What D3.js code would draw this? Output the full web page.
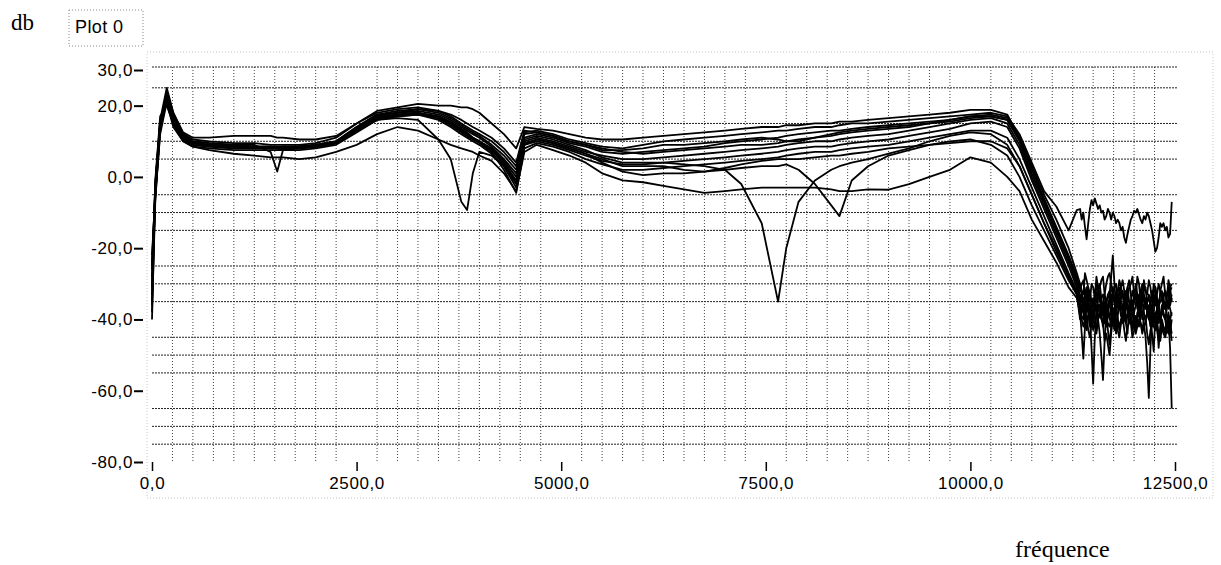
<!DOCTYPE html>
<html><head><meta charset="utf-8">
<script src="https://cdn.jsdelivr.net/npm/d3@7"></script>
<style>
html,body{margin:0;padding:0;background:#fff;}
svg{display:block;}
</style>
</head><body>
<svg id="c" width="1221" height="565"></svg>
<script>
// ---------- data ----------
const xTicks = [0, 2500, 5000, 7500, 10000, 12500];
const yTicks = [30, 20, 0, -20, -40, -60, -80];

const freqMain = [0, 40, 100, 180, 260, 380, 500, 700,
  1000, 1250, 1450, 1530, 1600, 1800, 2000, 2250,
  2500, 2750, 3000, 3250, 3500, 3650, 3780, 3850,
  3920, 4000, 4150, 4300, 4450, 4550, 4700, 4900,
  5100, 5300, 5500, 5750, 6000, 6250, 6500, 6750,
  7000, 7200, 7450, 7650, 7750, 7900, 8100, 8300,
  8400, 8550, 8750, 9000, 9250, 9500, 9750, 10000,
  10250, 10450, 10600, 10750, 10900, 11050, 11200, 11300];

const freqTail = [11340, 11360, 11380, 11400, 11420, 11440, 11460, 11480, 11500, 11520,
  11540, 11560, 11580, 11600, 11620, 11640, 11660, 11680, 11700, 11720,
  11740, 11760, 11780, 11800, 11820, 11840, 11860, 11880, 11900, 11920,
  11940, 11960, 11980, 12000, 12020, 12040, 12060, 12080, 12100, 12120,
  12140, 12160, 12180, 12200, 12220, 12240, 12260, 12280, 12300, 12320,
  12340, 12360, 12380, 12400, 12420, 12440, 12460];

const mainA = [-22, -5, 14, 22, 17, 12, 10.5, 10,
  9.5, 9.5, 9, 9, 9, 9, 9.5, 11,
  15, 18.5, 19.5, 20.5, 20, 20, 19.5, 19.5,
  19, 18, 15, 12, 8, 14, 13.5, 13,
  12, 11, 10.5, 10.5, 11, 11.5, 12, 12.5,
  13, 13.5, 14, 14, 14.5, 14.5, 15, 15,
  15.5, 15.5, 16, 16.5, 17, 17.5, 18, 18.8,
  18.8, 17.5, 11, 3, -5, -12, -20, -27];
const mainB = [-25, -3, 15, 23, 16, 11, 9.5, 9,
  8.5, 8.5, 8.5, 8, 8.5, 8.5, 9, 10,
  14, 17.5, 18.5, 19, 18.5, 17, 15, 14,
  13, 12, 10, 7, 3, 12.5, 13, 12,
  10.5, 9.5, 8.5, 8, 9, 10, 10.5, 11,
  11.5, 12, 12.5, 13, 13, 13.5, 14, 14,
  14.5, 15, 15, 15.5, 16, 16.5, 17, 17.5,
  18, 17, 12, 4, -4, -8.3, -15, -9.3];
const mainC = [-28, -2, 16, 21, 15, 10.5, 9, 8.5,
  8, 8, 8, 8, 7.5, 8, 8.5, 9.5,
  13.5, 17, 18, 18.5, 17.5, 16, 14, 13,
  12, 11, 8.5, 5, 1, 11, 12, 11,
  9.5, 8.5, 7, 6.5, 7, 7.5, 8, 8.5,
  9.5, 10, 10.5, 11, 11.5, 12, 12.5, 13,
  13, 13.5, 14, 14.5, 15, 15.5, 16, 17,
  17.5, 16.5, 11, 2, -6, -14, -22, -28];
const mainD = [-30, -6, 13, 24, 18, 12.5, 11, 11,
  11.5, 11.5, 11.5, 11, 11, 10.5, 10.5, 11.5,
  15, 18, 19, 19.5, 18.5, 17.5, 16, 15,
  14, 13, 11, 8, 4, 13, 12.5, 11.5,
  10, 9, 8, 7, 6.5, 7, 7.5, 8,
  8.5, 9, 9, 9.5, 10, 10.5, 11, 11.5,
  12, 12.5, 13, 13.5, 14, 15, 16, 17,
  17, 16, 10, 1, -7, -15, -23, -29];
const mainE = [-33, -4, 15, 22, 16, 11, 9.5, 9,
  8.5, 8, 8.5, 8, 8.5, 8.5, 8.5, 9.5,
  13, 16.5, 17.5, 18, 17, 15.5, 13.5, 12.5,
  11, 10, 7.5, 4, -1, 10, 11, 10,
  8.5, 7, 6, 5, 5, 5.5, 6, 6.5,
  7, 7.5, 8, 8.5, 9, 9.5, 10, 10,
  10.5, 11, 11.5, 12, 13, 14, 15, 16,
  16.5, 15, 9, 0, -8, -16, -24, -30];
const mainF = [-35, -1, 17, 20, 15, 10, 8.5, 8,
  7.5, 7.5, 7.5, 7.5, 7.5, 7.5, 8, 9,
  12.5, 16, 16.5, 16, 10.5, 5, -7, -9.3,
  1, 7, 6, 3, -3, 9, 10, 9,
  7.5, 6, 4.5, 3.5, 3.5, 4, 4.5, 5,
  5.5, 6, 6.5, 7, 7.5, 8, 8.5, 8.5,
  9, 9.5, 10, 10.5, 11.5, 12.5, 13.5, 15,
  15.5, 14, 8, -1, -9, -17, -25, -31];
const mainG = [-38, -7, 14, 23, 17, 11.5, 10, 9.5,
  9, 9, 7, 1.5, 7.5, 8.5, 9, 10,
  13.5, 17, 17.5, 18, 16.5, 14.5, 12.5, 11.5,
  10.5, 9.5, 7, 2, -4.5, 8, 9.5, 8.5,
  7, 5, 3.5, 2, 2, 2.5, 3, 3.5,
  4, 4.5, 5, 5.5, 6, 6.5, 7, 7,
  7.5, 8, 8.5, 9, 10, 11, 12, 13,
  13, 11, 5, -3, -11, -19, -27, -32];
const mainH = [-40, -3, 16, 25, 18, 12, 10, 9.5,
  9, 8.5, 8.5, 8, 8, 8.5, 8.5, 9.5,
  13, 16.5, 17, 17.5, 16, 14, 12, 11,
  10, 9, 6.5, 3, -2, 9, 10.5, 9.5,
  8, 6.5, 4, 1.5, 0.5, 1, 1, 1.5,
  2, 2.5, 3, 3, 3.5, 2, -2, -8,
  -11, -1, 3, 6, 7.5, 9, 10, 10.5,
  9, 6, 0, -8, -15, -22, -29, -33];
const mainI = [-26, -5, 12, 21, 14, 10, 8.5, 7.5,
  6.5, 6, 5.5, 5.5, 5.5, 5, 5.5, 7,
  9, 12, 14, 13, 10.5, 9, 8, 7.5,
  7, 6, 4.5, 1, -4, 7, 9, 7.5,
  6, 4, 1, -1, -1.5, -2.5, -3.5, -4.5,
  -4, -3.5, -3, -3, -3, -3, -3, -3.5,
  -4, -4, -3.5, -3.6, -2, 0, 2, 5.5,
  4, 0, -4, -12, -18, -24, -31, -34];
const mainJ = [-31, -2, 15, 22, 16, 11, 9.5, 9,
  8.5, 8.5, 8, 8, 8, 8, 8.5, 9.5,
  13, 16.5, 17.5, 18, 17, 15, 13, 12,
  11, 10, 8, 4.5, 0, 10.5, 11.5, 10.5,
  9, 7.5, 5.5, 4, 4, 4, 3.5, 3,
  2, -2, -13, -35, -20, -7, -1, 2,
  3, 4, 5, 6.5, 8, 10, 11.5, 12.5,
  12, 9, 3, -5, -13, -20, -28, -32];
const mainK = [-24, -4, 15, 22, 16, 11, 9.5, 9,
  8.5, 8.5, 8.5, 8.5, 8.5, 8.5, 9, 10,
  14, 17.5, 18, 19, 18, 16.5, 14.5, 13.5,
  12.5, 11.5, 9, 6, 2, 12, 12.5, 11.5,
  10, 9, 7.5, 7.5, 8, 9, 9, 9.5,
  10, 10.5, 11, 10.5, 10, 10, 11, 12,
  12.5, 13, 13.5, 14, 14.5, 15, 15.5, 16.5,
  17, 16, 10.5, 2.5, -6.5, -14.5, -22.5, -28.5];
const mainL = [-36, -5, 14, 21, 15, 10.5, 9, 8.5,
  8, 8, 8, 8, 8, 8, 8.5, 9.5,
  13, 16, 17, 17.5, 16.5, 15, 13, 12,
  11, 10, 7.5, 3.5, -1.5, 9.5, 10.5, 9.5,
  8, 6.5, 5, 3, 3, 3, 2, 1.5,
  2.5, 3.5, 4.5, 5, 5, 5, 5.5, 6,
  6, 6.5, 7, 8, 8.5, 9, 9.5, 10,
  10, 8, 3, -5, -13, -21, -28, -33];

const tailA = [-30, -32, -33, -27, -29, -31, -35, -30, -31, -34, -28, -31, -34, -38, -36, -33, -30, -28, -27, -30,
  -32, -36, -35, -32, -29, -31, -33, -35, -37, -34, -31, -30, -28, -33, -34, -28, -30, -35, -36, -29,
  -32, -33, -29, -31, -35, -30, -31, -36, -38, -32, -30, -28, -33, -34, -29, -31, -35];
const tailB = [-9, -12, -10, -14, -17.5, -13, -9, -6.5, -8, -6, -7.5, -9, -8, -10, -9.5, -12, -11, -9, -10, -12,
  -10, -11, -13, -12, -13, -15, -14, -17, -18.5, -16, -14, -12, -11, -9.5, -10, -9, -10.5, -12, -13, -11,
  -12, -10, -11, -13, -15, -18, -21, -20, -17, -13, -14, -13, -15, -14, -17, -16, -7];
const tailC = [-34, -37, -38, -33, -31, -35, -36, -39, -40, -35, -33, -31, -30, -34, -37, -41, -35, -33, -32, -36,
  -39, -37, -34, -32, -31, -35, -36, -40, -33, -31, -35, -38, -37, -34, -30, -33, -37, -39, -34, -32,
  -31, -36, -39, -42, -36, -34, -33, -37, -35, -39, -38, -34, -32, -35, -36, -31, -30];
const tailD = [-32, -30, -29, -34, -36, -31, -33, -37, -39, -36, -35, -32, -31, -29, -28, -33, -35, -38, -40, -36,
  -33, -31, -30, -34, -37, -33, -32, -35, -35, -31, -29, -33, -36, -34, -33, -37, -38, -34, -31, -35,
  -35, -38, -40, -36, -32, -35, -36, -33, -30, -32, -34, -37, -37, -33, -31, -36, -34];
const tailE = [-36, -39, -40, -37, -35, -38, -42, -39, -37, -34, -33, -36, -39, -37, -36, -40, -41, -37, -35, -33,
  -38, -41, -35, -32, -36, -39, -40, -36, -34, -38, -37, -40, -42, -38, -36, -34, -33, -37, -39, -36,
  -35, -38, -37, -35, -41, -38, -34, -36, -38, -41, -36, -38, -40, -37, -35, -37, -39];
const tailF = [-38, -44, -51, -42, -36, -38, -40, -37, -35, -39, -44, -40, -39, -36, -37, -40, -42, -38, -36, -33,
  -40, -43, -38, -36, -34, -38, -41, -39, -37, -35, -39, -37, -36, -40, -43, -40, -38, -36, -35, -38,
  -40, -39, -37, -41, -44, -49, -39, -37, -41, -38, -38, -35, -36, -39, -42, -44, -40];
const tailG = [-35, -33, -37, -40, -33, -36, -39, -48, -58, -45, -38, -36, -36, -39, -41, -38, -35, -37, -39, -42,
  -37, -40, -44, -39, -36, -34, -33, -37, -40, -38, -38, -36, -35, -39, -42, -38, -37, -36, -40, -37,
  -34, -38, -39, -41, -36, -40, -41, -39, -48, -42, -37, -39, -40, -43, -44, -40, -38];
const tailH = [-40, -38, -37, -41, -43, -39, -38, -40, -41, -38, -36, -40, -44, -50, -57, -46, -39, -41, -42, -40,
  -37, -39, -40, -43, -45, -41, -38, -37, -41, -44, -36, -39, -43, -41, -39, -40, -42, -39, -38, -41,
  -45, -52, -62, -48, -40, -42, -43, -40, -38, -40, -41, -43, -44, -41, -39, -42, -46];
const tailI = [-37, -40, -42, -40, -39, -43, -45, -41, -40, -42, -43, -39, -38, -40, -41, -46, -44, -47, -50, -44,
  -40, -38, -37, -40, -42, -40, -39, -43, -46, -42, -41, -39, -38, -42, -44, -42, -40, -41, -43, -40,
  -39, -44, -47, -43, -41, -39, -38, -41, -44, -46, -42, -44, -45, -43, -40, -48, -65];
const tailJ = [-33, -35, -36, -34, -31, -35, -38, -36, -34, -36, -37, -34, -32, -36, -39, -37, -35, -34, -33, -28,
  -22, -30, -36, -35, -34, -36, -38, -35, -32, -34, -35, -36, -37, -35, -33, -36, -39, -35, -31, -33,
  -36, -35, -34, -36, -38, -35, -33, -34, -36, -33, -32, -34, -37, -36, -34, -32, -31];
const tailK = [-31, -33, -34, -36, -37, -34, -32, -35, -36, -33, -30, -33, -35, -34, -33, -36, -38, -36, -34, -32,
  -31, -34, -37, -35, -33, -31, -29, -32, -35, -37, -38, -35, -32, -34, -36, -35, -34, -32, -30, -34,
  -37, -35, -33, -34, -35, -33, -31, -34, -36, -35, -34, -33, -32, -35, -37, -35, -33];
const tailL = [-39, -37, -35, -38, -41, -39, -37, -40, -43, -41, -39, -37, -36, -39, -42, -40, -38, -43, -47, -42,
  -40, -38, -36, -40, -43, -41, -39, -40, -41, -39, -37, -41, -45, -43, -40, -39, -38, -41, -44, -42,
  -41, -38, -36, -39, -42, -40, -39, -43, -46, -43, -40, -42, -43, -41, -38, -41, -44];

const seriesMain = [mainA, mainB, mainC, mainD, mainE, mainF, mainG, mainH, mainI, mainJ, mainK, mainL];
const seriesTail = [tailA, tailB, tailC, tailD, tailE, tailF, tailG, tailH, tailI, tailJ, tailK, tailL];

// ---------- drawing ----------
const svg = d3.select("#c");
const x = d3.scaleLinear().domain([0, 12500]).range([152, 1175]);
const y = d3.scaleLinear().domain([-80, 30]).range([462, 70]);
const fmt = v => d3.format(".1f")(v).replace(".", ",").replace("−", "-");

// outer light frame
svg.append("rect").attr("x", 147).attr("y", 52).attr("width", 1066).attr("height", 446)
  .attr("fill", "none").attr("stroke", "#c4c4c4").attr("stroke-width", 1).attr("stroke-dasharray", "1,2");

// grid
const gGrid = svg.append("g");
const vLines = d3.range(250, 12500, 250).filter(v => v % 2500 !== 0);
gGrid.selectAll("line.v").data(vLines).join("line")
  .attr("x1", d => x(d)).attr("x2", d => x(d))
  .attr("y1", y(30) - 3).attr("y2", y(-80))
  .attr("stroke", "#444").attr("stroke-width", 1).attr("stroke-dasharray", "1,2");
const hLines = d3.range(-75, 31, 5).filter(v => v % 20 !== 0);
gGrid.selectAll("line.h").data(hLines).join("line")
  .attr("x1", x(0)).attr("x2", x(12500) + 2)
  .attr("y1", d => y(d) - (d === 30 ? 3 : 0)).attr("y2", d => y(d) - (d === 30 ? 3 : 0))
  .attr("stroke", "#222").attr("stroke-width", 1).attr("stroke-dasharray", "2,1");

// curves
const line = d3.line().x(d => x(d[0])).y(d => y(d[1]));
const gCurves = svg.append("g");
seriesMain.forEach((m, i) => {
  const pts = freqMain.map((f, j) => [f, m[j]]).concat(freqTail.map((f, j) => [f, seriesTail[i][j]]));
  gCurves.append("path").datum(pts).attr("d", line)
    .attr("fill", "none").attr("stroke", "#000").attr("stroke-width", 1.8)
    .attr("stroke-linejoin", "round");
});

// axes
const axisFont = "'Liberation Sans', Arial, sans-serif";
const ax = svg.append("g").attr("transform", `translate(0,${y(-80)})`)
  .call(d3.axisBottom(x).tickValues(xTicks).tickSize(9).tickPadding(6).tickFormat(fmt));
ax.select(".domain").remove();
ax.selectAll("text").attr("font-family", axisFont).attr("font-size", 17).attr("fill", "#000").attr("letter-spacing", "0.6px");
ax.selectAll("line").attr("stroke", "#000").attr("stroke-width", 1.5);

const ay = svg.append("g").attr("transform", `translate(143,0)`)
  .call(d3.axisLeft(y).tickValues(yTicks).tickSize(9).tickPadding(1).tickFormat(fmt));
ay.select(".domain").remove();
ay.selectAll("text").attr("font-family", axisFont).attr("font-size", 17).attr("fill", "#000").attr("letter-spacing", "0.6px");
ay.selectAll("line").attr("stroke", "#000").attr("stroke-width", 2);

// labels
svg.append("text").attr("x", 11).attr("y", 30).text("db")
  .attr("font-family", "'Liberation Serif', 'Times New Roman', serif").attr("font-size", 23).attr("fill", "#000");
svg.append("rect").attr("x", 69).attr("y", 10).attr("width", 74).attr("height", 36)
  .attr("fill", "none").attr("stroke", "#888").attr("stroke-dasharray", "1,2");
svg.append("text").attr("x", 75).attr("y", 33).text("Plot 0")
  .attr("font-family", axisFont).attr("font-size", 18).attr("textLength", 48).attr("fill", "#000");
svg.append("text").attr("x", 1015).attr("y", 557).text("fréquence")
  .attr("font-family", "'Liberation Serif', 'Times New Roman', serif").attr("font-size", 24).attr("fill", "#000");
</script>
</body></html>
